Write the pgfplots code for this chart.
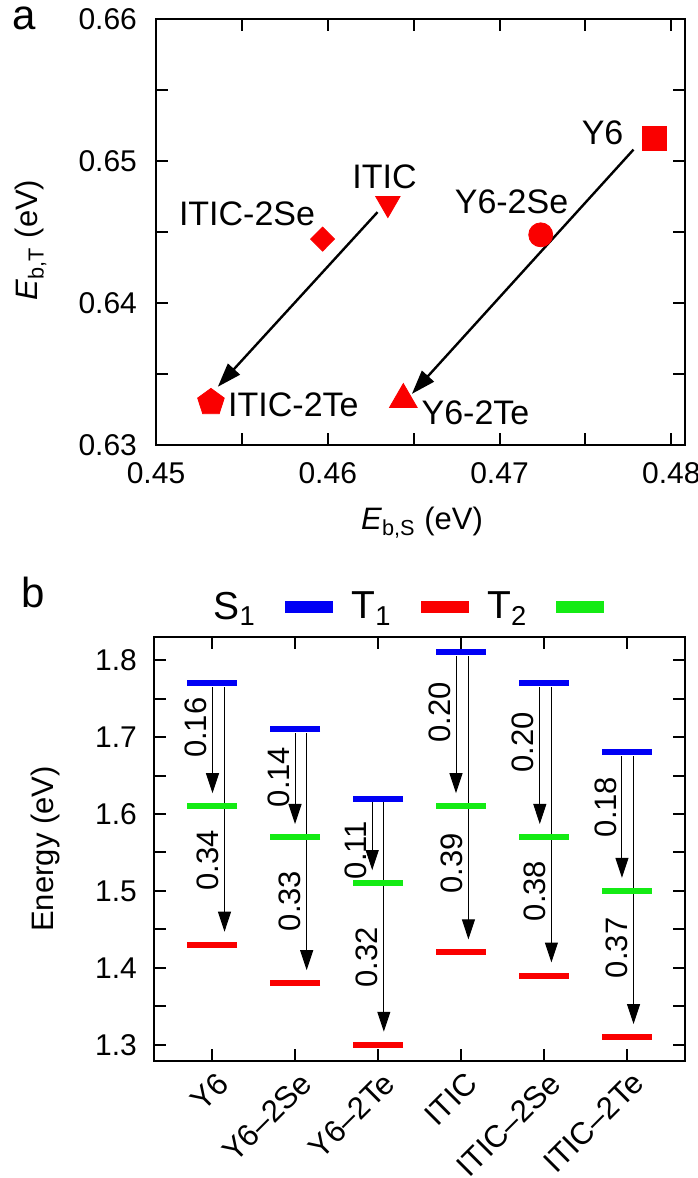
\documentclass[border=0pt]{standalone}
\usepackage{fontspec}
\setmainfont{Liberation Sans}
\usepackage{pgfplots}
\pgfplotsset{compat=1.18}
\usepackage{pgfplotstable}
\usetikzlibrary{arrows.meta}
\definecolor{lvblue}{RGB}{0,0,245}
\definecolor{lvred}{RGB}{250,0,0}
\definecolor{lvgreen}{RGB}{20,235,20}

% levels (eV)
\pgfplotstableread{
x S1 T2 T1
0 1.77 1.61 1.43
1 1.71 1.57 1.38
2 1.62 1.51 1.30
3 1.81 1.61 1.42
4 1.77 1.57 1.39
5 1.68 1.50 1.31
}\levels

% arrows S1 -> T2 (x, start, end)
\pgfplotstableread{
x y0 y1
0.005 1.765 1.627
1.00 1.705 1.587
1.93 1.615 1.527
2.94 1.805 1.627
3.95 1.765 1.587
4.94 1.675 1.517
}\arrowsA
% arrows S1 -> T1
\pgfplotstableread{
x y0 y1
0.15 1.765 1.447
1.14 1.705 1.397
2.07 1.615 1.317
3.09 1.805 1.437
4.09 1.765 1.407
5.08 1.675 1.327
}\arrowsB
% gap labels
\pgfplotstableread{
x y lab
-0.195 1.712 0.16
0.80 1.648 0.14
1.73 1.553 0.11
2.74 1.732 0.20
3.75 1.693 0.20
4.74 1.609 0.18
-0.05 1.540 0.34
0.94 1.487 0.33
1.87 1.414 0.32
2.89 1.536 0.39
3.89 1.500 0.38
4.88 1.426 0.37
}\gaplabels

\begin{document}
\begin{tikzpicture}
\path[use as bounding box] (0pt,0pt) rectangle (348.5pt,589pt);

% ---------------- panel a ----------------
\begin{axis}[
  at={(78pt,366.5pt)}, anchor=south west,
  scale only axis, width=264.5pt, height=213pt,
  xmin=0.45, xmax=0.4808, ymin=0.63, ymax=0.66,
  xtick={0.45,0.46,0.47,0.48}, ytick={0.63,0.64,0.65,0.66},
  minor xtick={0.455,0.465,0.475}, minor ytick={0.635,0.645,0.655},
  tick align=inside, major tick length=6pt, minor tick length=6pt,
  every tick/.style={black, line width=1pt},
  axis line style={line width=1.2pt},
  scaled ticks=false,
  /pgf/number format/assume math mode=true,
  /pgf/number format/fixed, /pgf/number format/precision=2,
  /pgf/number format/fixed zerofill,
  ticklabel style={font=\fontsize{15}{15}\selectfont},
  xticklabel style={yshift=-5pt},
  yticklabel style={xshift=-6pt},
  clip=false,
]
\addplot[only marks, mark=square*, mark size=6pt, color=lvred] coordinates {(0.4790,0.6516)};
\addplot[only marks, mark=*, mark size=6pt, color=lvred] coordinates {(0.4724,0.6448)};
\addplot[only marks, mark=triangle*, mark size=7pt, mark options={rotate=180}, color=lvred] coordinates {(0.4635,0.6470)};
\addplot[only marks, mark=diamond*, mark size=6pt, mark options={xscale=1.33}, color=lvred] coordinates {(0.4597,0.6445)};
\addplot[only marks, mark=pentagon*, mark size=7pt, color=lvred] coordinates {(0.4532,0.6330)};
\addplot[only marks, mark=triangle*, mark size=8pt, color=lvred] coordinates {(0.4644,0.6332)};
\addplot[black, line width=1.2pt, -{Triangle[length=12pt,width=8pt]},
  quiver={u=\thisrow{u}, v=\thisrow{v}}] table {
x y u v
0.4778 0.6508 -0.0129 -0.0172
0.4629 0.6464 -0.0093 -0.0123
};
\node[font=\fontsize{17}{17}\selectfont] at (axis cs:0.4760,0.6520) {Y6};
\node[font=\fontsize{17}{17}\selectfont] at (axis cs:0.4633,0.6489) {ITIC};
\node[font=\fontsize{17}{17}\selectfont] at (axis cs:0.4707,0.6471) {Y6-2Se};
\node[font=\fontsize{17}{17}\selectfont] at (axis cs:0.4553,0.6463) {ITIC-2Se};
\node[font=\fontsize{17}{17}\selectfont] at (axis cs:0.4580,0.6328) {ITIC-2Te};
\node[font=\fontsize{17}{17}\selectfont] at (axis cs:0.4686,0.6323) {Y6-2Te};
\end{axis}

% ---------------- panel b ----------------
\begin{axis}[
  at={(77pt,58.5pt)}, anchor=south west,
  scale only axis, width=265.5pt, height=212pt,
  xmin=-0.7, xmax=5.7, ymin=1.279, ymax=1.830,
  xtick={0,1,2,3,4,5},
  xticklabels={Y6,Y6–2Se,Y6–2Te,ITIC,ITIC–2Se,ITIC–2Te},
  ytick={1.3,1.4,1.5,1.6,1.7,1.8},
  minor ytick={1.35,1.45,1.55,1.65,1.75},
  tick align=inside, major tick length=6pt, minor tick length=6pt,
  every tick/.style={black, line width=1pt},
  axis line style={line width=1.2pt},
  scaled ticks=false,
  /pgf/number format/assume math mode=true,
  yticklabel style={/pgf/number format/fixed, /pgf/number format/precision=1,
    /pgf/number format/fixed zerofill, xshift=-5pt},
  ticklabel style={font=\fontsize{15}{15}\selectfont},
  xticklabel style={xshift=5.5pt, yshift=-8.5pt, rotate=45, anchor=east, inner sep=0pt,
    font=\fontsize{15.5}{15.5}\selectfont},
  clip=false,
  legend style={at={(0.478,1.071)}, anchor=center, draw=none, fill=none,
    font=\fontsize{19.5}{19.5}\selectfont, legend columns=-1,
    nodes={inner sep=1pt},
    /tikz/every even column/.append style={column sep=8.5pt},
    /tikz/every odd column/.append style={column sep=13.5pt}},
  legend plot pos=right,
]
\addplot[only marks, mark=-, mark size=12.5pt, mark options={line width=3pt, color=lvblue},
  legend image code/.code={\fill[lvblue] (0pt,-2.7pt) rectangle (23.5pt,2.7pt);}]
  table[x=x, y=S1] {\levels};
\addlegendentry{S\textsubscript{1}}
\addplot[only marks, mark=-, mark size=12.5pt, mark options={line width=3pt, color=lvred},
  legend image code/.code={\fill[lvred] (0pt,-2.7pt) rectangle (23.5pt,2.7pt);}]
  table[x=x, y=T1] {\levels};
\addlegendentry{T\textsubscript{1}}
\addplot[only marks, mark=-, mark size=12.5pt, mark options={line width=3pt, color=lvgreen},
  legend image code/.code={\fill[lvgreen] (0pt,-2.7pt) rectangle (23.5pt,2.7pt);}]
  table[x=x, y=T2] {\levels};
\addlegendentry{T\textsubscript{2}}

\addplot[forget plot, black, line width=0.5pt, -{Triangle[length=10pt,width=6.5pt]},
  quiver={u=0, v=\thisrow{y1}-\thisrow{y0}}] table[x=x, y=y0] {\arrowsA};
\addplot[forget plot, black, line width=0.5pt, -{Triangle[length=10pt,width=6.5pt]},
  quiver={u=0, v=\thisrow{y1}-\thisrow{y0}}] table[x=x, y=y0] {\arrowsB};

\addplot[forget plot, only marks, mark=none, nodes near coords, point meta=explicit symbolic,
  every node near coord/.append style={rotate=90, anchor=center, inner sep=0pt,
    font=\fontsize{15.5}{15.5}\selectfont, text=black}]
  table[x=x, y=y, meta=lab] {\gaplabels};
\end{axis}

% labels
\node[font=\fontsize{21}{21}\selectfont, anchor=base, inner sep=0pt, text height=11pt, text depth=0pt] at (12pt,574pt) {a};
\node[font=\fontsize{21}{21}\selectfont, anchor=base, inner sep=0pt] at (16.5pt,285pt) {b};
\node[font=\fontsize{15.5}{15.5}\selectfont] at (211pt,327.5pt) {\textit{E}\textsubscript{b,S} (eV)};
\node[font=\fontsize{15.5}{15.5}\selectfont, rotate=90] at (15.5pt,469pt) {\textit{E}\textsubscript{b,T} (eV)};
\node[font=\fontsize{15.5}{15.5}\selectfont, rotate=90] at (22.5pt,164.5pt) {Energy (eV)};
\end{tikzpicture}
\end{document}
